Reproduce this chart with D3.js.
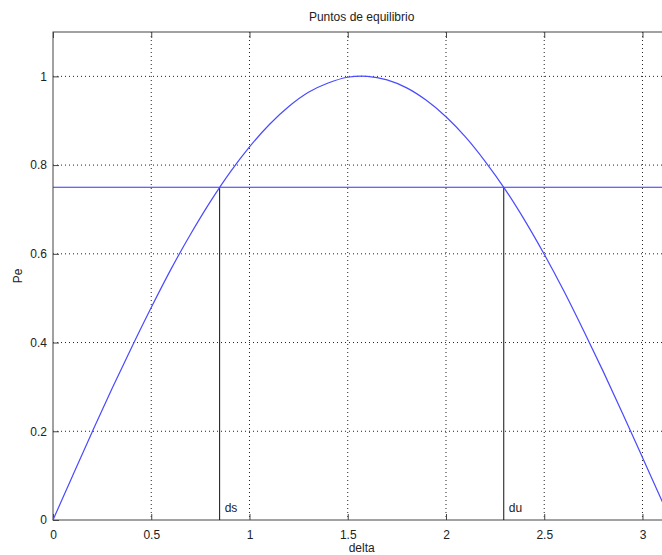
<!DOCTYPE html>
<html>
<head>
<meta charset="utf-8">
<script src="https://cdn.jsdelivr.net/npm/d3@7"></script>
<style>
  body { margin: 0; background: #fff; }
  text { font-family: "Liberation Sans", Arial, sans-serif; fill: #222; }
</style>
</head>
<body>
<svg id="chart"></svg>
<script>
// curve: delta (rad) vs Pe
const delta = [0, 0.1, 0.2, 0.3, 0.4, 0.5, 0.6, 0.7, 0.8, 0.9, 1.0, 1.1, 1.2, 1.3, 1.4, 1.5,
  1.6, 1.7, 1.8, 1.9, 2.0, 2.1, 2.2, 2.3, 2.4, 2.5, 2.6, 2.7, 2.8, 2.9, 3.0, 3.1, 3.1416];
const pe = [0, 0.100, 0.199, 0.296, 0.389, 0.479, 0.565, 0.644, 0.717, 0.783, 0.841, 0.891,
  0.932, 0.964, 0.985, 0.998, 1.000, 0.992, 0.974, 0.946, 0.909, 0.863, 0.808, 0.746,
  0.676, 0.599, 0.516, 0.427, 0.335, 0.239, 0.141, 0.042, 0];

const pm = 0.75;                 // horizontal line
const eqNames = ['ds', 'du'];
const eqDelta = [0.848, 2.294];  // equilibrium points

const xTicks = [0, 0.5, 1, 1.5, 2, 2.5, 3];
const yTicks = [0, 0.2, 0.4, 0.6, 0.8, 1];

const W = 662, H = 555;
const margin = {top: 32, left: 53};
const plotW = 617.3, plotH = 488;

const svg = d3.select('#chart').attr('width', W).attr('height', H);
const g = svg.append('g').attr('transform', 'translate(' + margin.left + ',' + margin.top + ')');

const x = d3.scaleLinear().domain([0, 3.1416]).range([0, plotW]);
const y = d3.scaleLinear().domain([0, 1.1]).range([plotH, 0]);

// grid
g.append('g').selectAll('line').data(xTicks.slice(1)).enter().append('line')
  .attr('x1', d => x(d)).attr('x2', d => x(d)).attr('y1', 0).attr('y2', plotH)
  .attr('stroke', '#222').attr('stroke-dasharray', '1,3');
g.append('g').selectAll('line').data(yTicks.slice(1)).enter().append('line')
  .attr('x1', 0).attr('x2', plotW).attr('y1', d => y(d)).attr('y2', d => y(d))
  .attr('stroke', '#222').attr('stroke-dasharray', '1,3');

// box
g.append('rect').attr('width', plotW).attr('height', plotH)
  .attr('fill', 'none').attr('stroke', '#444');

// axes with inward ticks
const xAxis = d3.axisBottom(x).tickValues(xTicks).tickSize(-6).tickPadding(10).tickFormat(d3.format('~g'));
const yAxis = d3.axisLeft(y).tickValues(yTicks).tickSize(-6).tickPadding(12).tickFormat(d3.format('~g'));

const gx = g.append('g').attr('transform', 'translate(0,' + plotH + ')').call(xAxis);
const gy = g.append('g').call(yAxis);
g.append('g').call(d3.axisTop(x).tickValues(xTicks).tickSize(-6).tickFormat(''));
g.append('g').attr('transform', 'translate(' + plotW + ',0)')
  .call(d3.axisRight(y).tickValues(yTicks).tickSize(-6).tickFormat(''));

g.selectAll('.domain').remove();
g.selectAll('.tick line').attr('stroke', '#444');
g.selectAll('.tick text').attr('font-size', 12).attr('fill', '#222')
  .attr('font-family', '"Liberation Sans", Arial, sans-serif');
gy.selectAll('.tick text').attr('dx', 6);

// vertical lines at equilibrium points
g.append('g').selectAll('line').data(eqDelta).enter().append('line')
  .attr('x1', d => x(d)).attr('x2', d => x(d))
  .attr('y1', y(0)).attr('y2', y(pm))
  .attr('stroke', '#111');

g.append('g').selectAll('text').data(eqNames).enter().append('text')
  .attr('x', (d, i) => x(eqDelta[i]) + 5)
  .attr('y', y(0) - 8)
  .attr('font-size', 12)
  .text(d => d);

// horizontal Pm line
g.append('line').attr('x1', 0).attr('x2', plotW).attr('y1', y(pm)).attr('y2', y(pm))
  .attr('stroke', '#3333ff').attr('stroke-width', 1.2);

// sine curve
const line = d3.line().x((d, i) => x(delta[i])).y(d => y(d)).curve(d3.curveCatmullRom);
g.append('path').datum(pe).attr('d', line)
  .attr('fill', 'none').attr('stroke', '#4a4aff').attr('stroke-width', 1.2);

// labels
svg.append('text').attr('x', margin.left + plotW / 2).attr('y', 21)
  .attr('text-anchor', 'middle').attr('font-size', 12).text('Puntos de equilibrio');
svg.append('text').attr('x', margin.left + plotW / 2).attr('y', 552)
  .attr('text-anchor', 'middle').attr('font-size', 12).text('delta');
svg.append('text').attr('transform', 'translate(22,' + (margin.top + plotH / 2) + ') rotate(-90)')
  .attr('text-anchor', 'middle').attr('font-size', 12).text('Pe');
</script>
</body>
</html>
